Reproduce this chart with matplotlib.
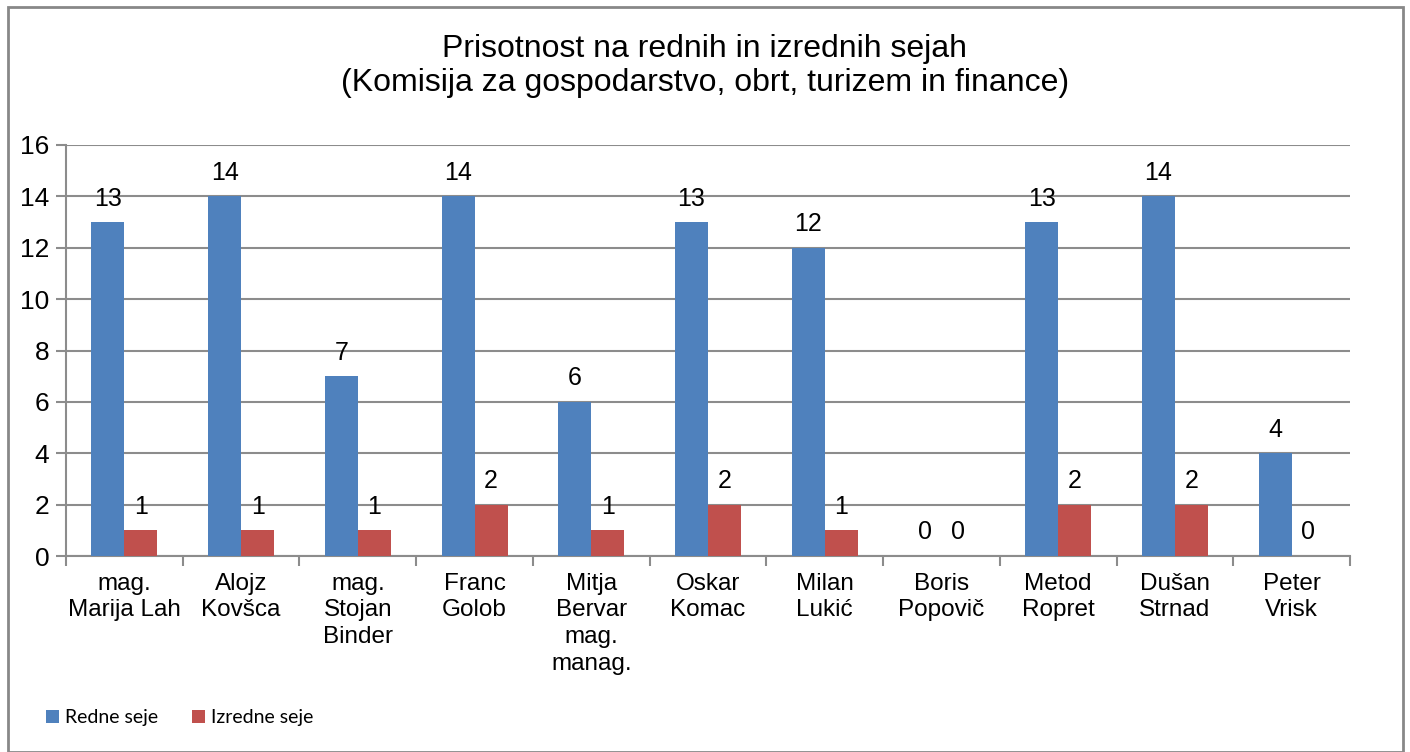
import numpy as np
import matplotlib.pyplot as plt

# Chart data
names = ["mag.\nMarija Lah", "Alojz\nKovšca", "mag.\nStojan\nBinder", "Franc\nGolob",
         "Mitja\nBervar\nmag.\nmanag.", "Oskar\nKomac", "Milan\nLukić", "Boris\nPopovič",
         "Metod\nRopret", "Dušan\nStrnad", "Peter\nVrisk"]
redne = [13, 14, 7, 14, 6, 13, 12, 0, 13, 14, 4]
izredne = [1, 1, 1, 2, 1, 2, 1, 0, 2, 2, 0]
yticks = [0, 2, 4, 6, 8, 10, 12, 14, 16]

blue = "#4F81BD"
red = "#C0504D"
grid_col = "#8C8C8C"

plt.rcParams['font.family'] = ['Liberation Sans', 'DejaVu Sans']

fig = plt.figure(figsize=(14.1, 7.52), dpi=100)
W, H = 1410, 752

# outer chart border
fig.patches.append(plt.Rectangle((8 / W, 0), (1403 - 8) / W, (752 - 7) / H,
                                 transform=fig.transFigure, fill=False,
                                 edgecolor="#888888", linewidth=2))

ax = fig.add_axes([66 / W, 1 - 556 / H, (1350 - 66) / W, (556 - 145) / H])

x = np.arange(len(names))
bw = 0.283
ax.bar(x - bw / 2, redne, bw, color=blue, label="Redne seje", zorder=3)
ax.bar(x + bw / 2, izredne, bw, color=red, label="Izredne seje", zorder=3)

for xi, v in zip(x, redne):
    ax.text(xi - bw / 2, v + 0.45, str(v), ha="center", va="bottom", fontsize=18)
for xi, v in zip(x, izredne):
    ax.text(xi + bw / 2, v + 0.45, str(v), ha="center", va="bottom", fontsize=18)

ax.set_xlim(-0.5, len(names) - 0.5)
ax.set_ylim(0, 16)
ax.set_yticks(yticks)
ax.set_yticklabels([str(t) for t in yticks], fontsize=19)
ax.yaxis.grid(True, color=grid_col, linewidth=1.5, zorder=0)
ax.set_axisbelow(True)

ax.set_xticks(x)
ax.set_xticklabels(names, fontsize=17.5, linespacing=1.28, va="top")
ax.tick_params(axis="x", length=0, pad=12)
ax.set_xticks(np.arange(-0.5, len(names)), minor=True)
ax.tick_params(axis="x", which="minor", length=7, width=1.5, color=grid_col)
ax.tick_params(axis="y", length=7, width=1.5, color=grid_col, pad=5)

for s in ["top", "right"]:
    ax.spines[s].set_visible(False)
ax.spines["left"].set_color(grid_col)
ax.spines["left"].set_linewidth(1.5)
ax.spines["bottom"].set_color(grid_col)
ax.spines["bottom"].set_linewidth(1.5)

fig.text(0.5, 1 - 66 / H, "Prisotnost na rednih in izrednih sejah\n(Komisija za gospodarstvo, obrt, turizem in finance)",
         ha="center", va="center", fontsize=23, linespacing=1.2)

leg = fig.legend(loc="center left", bbox_to_anchor=(29 / W, 1 - 718 / H), ncol=2,
                 frameon=False, handlelength=0.65, handleheight=0.65,
                 handletextpad=0.3, columnspacing=1.75,
                 prop={'family': ['Lato', 'DejaVu Sans'], 'size': 14})

fig.savefig("out.png", dpi=100)
